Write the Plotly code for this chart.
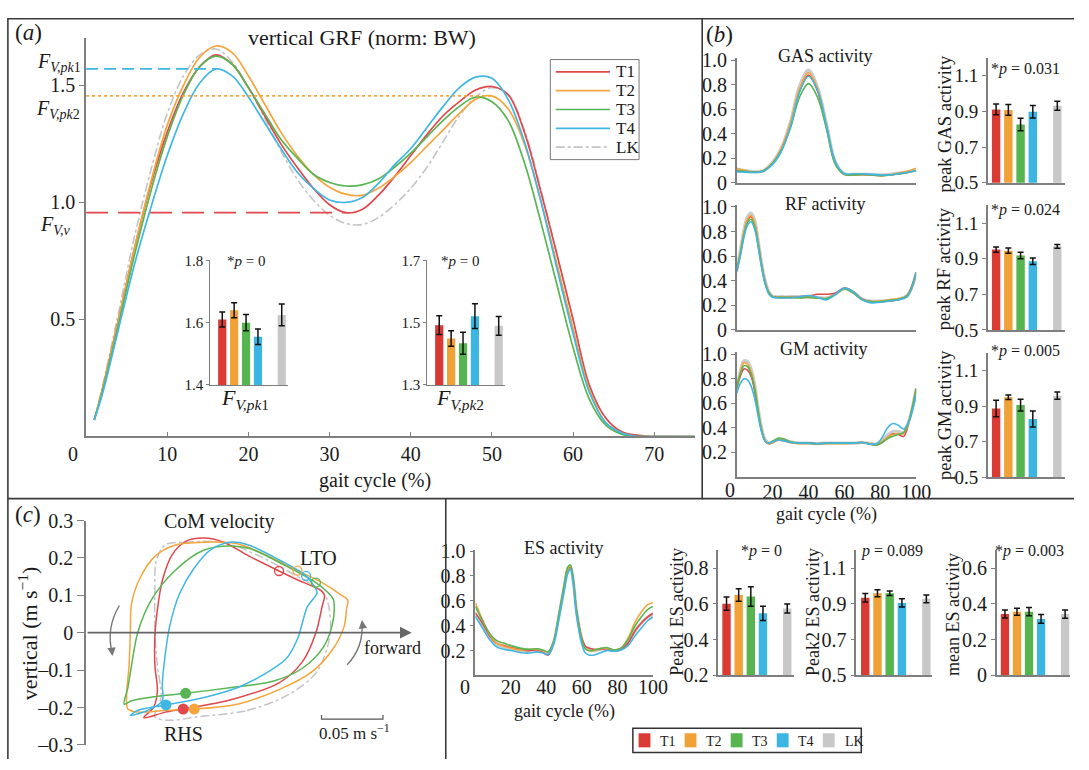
import plotly.graph_objects as go

W, H = 1089, 770
FONT = "Liberation Serif, Times New Roman, DejaVu Serif, serif"
TXT = "#1a1a1a"
AXC = "#7f7f7f"

conds = ["T1", "T2", "T3", "T4", "LK"]
bar_pos = [1, 2, 3, 4, 6]
line_col = {"T1": "#e2474b", "T2": "#f6a53c", "T3": "#58b553", "T4": "#40b7e3", "LK": "#c4c4c4"}
bar_col = {"T1": "#d93a34", "T2": "#f0a236", "T3": "#56b54e", "T4": "#3bb5e1", "LK": "#c8c8c8"}

# ---------------- (a) vertical GRF ----------------
grf_x = [1, 2, 4, 6, 8, 10, 12, 14, 16, 18, 20, 22, 24, 26, 28, 30, 32, 34, 36, 38, 40,
         42, 44, 46, 48, 50, 52, 54, 56, 58, 60, 62, 64, 66, 68, 70, 72, 75]
grf_t1 = [0.07, 0.20, 0.50, 0.81, 1.08, 1.30, 1.47, 1.58, 1.63, 1.59, 1.49, 1.37, 1.25, 1.15, 1.06,
          0.99, 0.956, 0.97, 1.03, 1.11, 1.20, 1.29, 1.37, 1.43, 1.48, 1.495, 1.46, 1.30, 1.05,
          0.78, 0.50, 0.22, 0.08, 0.02, 0.005, 0.0, 0.0, 0.0]
grf_t2 = [0.07, 0.20, 0.50, 0.81, 1.09, 1.33, 1.50, 1.62, 1.668, 1.64, 1.54, 1.42, 1.30, 1.20, 1.12,
          1.065, 1.035, 1.03, 1.06, 1.11, 1.17, 1.24, 1.31, 1.38, 1.44, 1.455, 1.40, 1.25, 1.01,
          0.74, 0.46, 0.20, 0.06, 0.015, 0.0, 0.0, 0.0, 0.0]
grf_t3 = [0.07, 0.19, 0.48, 0.78, 1.05, 1.28, 1.46, 1.58, 1.625, 1.59, 1.49, 1.38, 1.27, 1.19, 1.12,
          1.085, 1.07, 1.075, 1.10, 1.15, 1.21, 1.28, 1.35, 1.41, 1.45, 1.43, 1.35, 1.17, 0.92,
          0.65, 0.38, 0.16, 0.05, 0.01, 0.0, 0.0, 0.0, 0.0]
grf_t4 = [0.07, 0.18, 0.46, 0.74, 0.98, 1.20, 1.38, 1.51, 1.57, 1.54, 1.45, 1.34, 1.23, 1.13, 1.06,
          1.01, 1.00, 1.02, 1.08, 1.16, 1.23, 1.32, 1.41, 1.49, 1.535, 1.53, 1.44, 1.26, 1.01,
          0.72, 0.44, 0.19, 0.06, 0.015, 0.0, 0.0, 0.0, 0.0]
grf_lk = [0.07, 0.21, 0.53, 0.86, 1.14, 1.38, 1.54, 1.63, 1.655, 1.60, 1.49, 1.36, 1.22, 1.10, 1.01,
          0.945, 0.91, 0.905, 0.935, 0.99, 1.06, 1.15, 1.26, 1.37, 1.45, 1.49, 1.46, 1.31, 1.06,
          0.78, 0.50, 0.22, 0.08, 0.02, 0.005, 0.0, 0.0, 0.0]
grf = {"T1": grf_t1, "T2": grf_t2, "T3": grf_t3, "T4": grf_t4, "LK": grf_lk}

fpk1_mean = [1.610, 1.640, 1.600, 1.555, 1.625]
fpk1_err = [0.024, 0.024, 0.026, 0.025, 0.035]
fpk2_mean = [1.492, 1.449, 1.434, 1.521, 1.490]
fpk2_err = [0.030, 0.025, 0.035, 0.040, 0.030]

# ---------------- (b) muscle activity ----------------
gas_x = [0, 5, 10, 15, 20, 25, 30, 35, 40, 45, 50, 55, 60, 65, 70, 75, 80, 85, 90, 95, 100]
gas_t1 = [0.10, 0.095, 0.088, 0.10, 0.16, 0.28, 0.48, 0.75, 0.88, 0.75, 0.46, 0.16, 0.07, 0.065, 0.07, 0.065, 0.06, 0.065, 0.075, 0.085, 0.10]
gas_t2 = [0.12, 0.10, 0.088, 0.10, 0.16, 0.28, 0.49, 0.77, 0.90, 0.77, 0.47, 0.16, 0.07, 0.065, 0.07, 0.065, 0.06, 0.065, 0.08, 0.095, 0.12]
gas_t3 = [0.10, 0.095, 0.088, 0.10, 0.16, 0.27, 0.45, 0.70, 0.81, 0.70, 0.44, 0.15, 0.07, 0.065, 0.07, 0.065, 0.06, 0.065, 0.075, 0.085, 0.10]
gas_t4 = [0.09, 0.088, 0.085, 0.095, 0.15, 0.26, 0.46, 0.74, 0.87, 0.76, 0.47, 0.17, 0.075, 0.075, 0.075, 0.07, 0.065, 0.065, 0.075, 0.085, 0.10]
gas_lk = [0.11, 0.10, 0.09, 0.10, 0.17, 0.29, 0.50, 0.79, 0.92, 0.78, 0.48, 0.17, 0.075, 0.07, 0.07, 0.07, 0.065, 0.07, 0.08, 0.09, 0.11]

rf_x = [0, 2, 4, 6, 8, 10, 12, 14, 16, 18, 20, 25, 30, 35, 40, 45, 50, 55, 60, 65, 70, 75, 80, 85, 90, 95, 100]
rf_t1 = [0.48, 0.62, 0.78, 0.89, 0.92, 0.86, 0.70, 0.52, 0.38, 0.30, 0.27, 0.265, 0.265, 0.27, 0.275, 0.29, 0.29, 0.30, 0.34, 0.31, 0.25, 0.23, 0.23, 0.235, 0.245, 0.28, 0.47]
rf_t2 = [0.48, 0.63, 0.79, 0.90, 0.93, 0.87, 0.71, 0.52, 0.38, 0.30, 0.27, 0.265, 0.265, 0.265, 0.265, 0.26, 0.255, 0.29, 0.335, 0.305, 0.245, 0.23, 0.235, 0.245, 0.255, 0.27, 0.45]
rf_t3 = [0.48, 0.62, 0.77, 0.87, 0.90, 0.84, 0.69, 0.51, 0.37, 0.30, 0.27, 0.265, 0.265, 0.26, 0.265, 0.26, 0.255, 0.29, 0.335, 0.30, 0.245, 0.23, 0.23, 0.24, 0.25, 0.28, 0.47]
rf_t4 = [0.47, 0.60, 0.75, 0.85, 0.88, 0.82, 0.67, 0.50, 0.37, 0.29, 0.265, 0.26, 0.26, 0.27, 0.28, 0.265, 0.245, 0.29, 0.34, 0.31, 0.245, 0.22, 0.225, 0.235, 0.245, 0.27, 0.46]
rf_lk = [0.49, 0.64, 0.81, 0.92, 0.95, 0.89, 0.72, 0.53, 0.39, 0.31, 0.275, 0.27, 0.27, 0.27, 0.27, 0.265, 0.26, 0.29, 0.335, 0.305, 0.25, 0.235, 0.235, 0.24, 0.25, 0.28, 0.46]

gm_x = [0, 2, 4, 6, 8, 10, 12, 14, 16, 18, 20, 23, 26, 30, 35, 40, 45, 50, 55, 60, 65, 70, 75, 78, 81, 84, 87, 90, 93, 96, 100]
gm_t1 = [0.72, 0.82, 0.88, 0.87, 0.82, 0.70, 0.52, 0.37, 0.29, 0.27, 0.28, 0.30, 0.295, 0.28, 0.275, 0.275, 0.27, 0.275, 0.275, 0.275, 0.275, 0.28, 0.265, 0.26, 0.28, 0.32, 0.35, 0.345, 0.33, 0.45, 0.72]
gm_t2 = [0.73, 0.85, 0.93, 0.92, 0.86, 0.73, 0.54, 0.38, 0.29, 0.27, 0.28, 0.30, 0.295, 0.28, 0.27, 0.27, 0.265, 0.27, 0.27, 0.27, 0.275, 0.28, 0.265, 0.26, 0.29, 0.32, 0.345, 0.35, 0.355, 0.45, 0.72]
gm_t3 = [0.72, 0.84, 0.905, 0.90, 0.84, 0.72, 0.53, 0.37, 0.29, 0.275, 0.29, 0.315, 0.31, 0.285, 0.275, 0.275, 0.27, 0.275, 0.275, 0.275, 0.275, 0.28, 0.265, 0.26, 0.28, 0.31, 0.33, 0.345, 0.36, 0.46, 0.72]
gm_t4 = [0.68, 0.76, 0.80, 0.79, 0.74, 0.64, 0.49, 0.36, 0.29, 0.275, 0.285, 0.30, 0.295, 0.28, 0.275, 0.275, 0.27, 0.275, 0.275, 0.275, 0.275, 0.28, 0.265, 0.27, 0.32, 0.40, 0.435, 0.42, 0.39, 0.45, 0.67]
gm_lk = [0.73, 0.86, 0.945, 0.94, 0.88, 0.75, 0.55, 0.39, 0.30, 0.275, 0.285, 0.305, 0.30, 0.285, 0.275, 0.275, 0.27, 0.275, 0.275, 0.275, 0.275, 0.28, 0.27, 0.27, 0.30, 0.34, 0.37, 0.37, 0.36, 0.46, 0.72]

gas_pk = [0.911, 0.908, 0.826, 0.898, 0.932]
gas_err = [0.030, 0.030, 0.035, 0.035, 0.025]
rf_pk = [0.951, 0.945, 0.918, 0.885, 0.969]
rf_err = [0.015, 0.015, 0.018, 0.018, 0.010]
gm_pk = [0.886, 0.949, 0.905, 0.827, 0.958]
gm_err = [0.046, 0.013, 0.033, 0.045, 0.020]

# ---------------- ES activity ----------------
es_x = [0, 4, 8, 12, 16, 20, 25, 30, 35, 38, 41, 44, 47, 50, 52, 53.5, 55, 57, 60, 62, 64, 67, 70, 74, 78, 82, 86, 90, 94, 97, 100]
es_t1 = [0.505, 0.42, 0.32, 0.26, 0.24, 0.225, 0.21, 0.20, 0.205, 0.185, 0.165, 0.26, 0.47, 0.70, 0.84, 0.875, 0.78, 0.52, 0.30, 0.235, 0.22, 0.21, 0.21, 0.215, 0.20, 0.21, 0.26, 0.36, 0.43, 0.47, 0.50]
es_t2 = [0.585, 0.45, 0.33, 0.26, 0.235, 0.22, 0.205, 0.21, 0.21, 0.20, 0.19, 0.27, 0.48, 0.71, 0.85, 0.88, 0.78, 0.51, 0.28, 0.215, 0.20, 0.20, 0.215, 0.22, 0.205, 0.22, 0.30, 0.43, 0.52, 0.57, 0.585]
es_t3 = [0.555, 0.44, 0.34, 0.28, 0.26, 0.24, 0.22, 0.21, 0.215, 0.205, 0.19, 0.27, 0.49, 0.73, 0.87, 0.89, 0.79, 0.52, 0.28, 0.215, 0.20, 0.205, 0.215, 0.225, 0.205, 0.22, 0.29, 0.40, 0.48, 0.53, 0.555]
es_t4 = [0.475, 0.38, 0.29, 0.23, 0.21, 0.20, 0.185, 0.18, 0.19, 0.18, 0.17, 0.25, 0.45, 0.68, 0.82, 0.855, 0.75, 0.48, 0.25, 0.18, 0.165, 0.165, 0.18, 0.20, 0.195, 0.205, 0.24, 0.32, 0.39, 0.44, 0.47]
es_lk = [0.49, 0.40, 0.31, 0.25, 0.23, 0.215, 0.20, 0.20, 0.205, 0.19, 0.175, 0.26, 0.47, 0.70, 0.84, 0.87, 0.78, 0.52, 0.29, 0.22, 0.205, 0.20, 0.21, 0.215, 0.20, 0.21, 0.27, 0.36, 0.43, 0.47, 0.49]

es_pk1 = [0.601, 0.650, 0.641, 0.547, 0.574]
es_pk1_err = [0.037, 0.035, 0.055, 0.040, 0.025]
es_pk2 = [0.934, 0.959, 0.959, 0.905, 0.928]
es_pk2_err = [0.024, 0.020, 0.013, 0.023, 0.022]
es_mean = [0.343, 0.356, 0.356, 0.316, 0.343]
es_mean_err = [0.022, 0.020, 0.023, 0.025, 0.023]

# ---------------- (c) CoM velocity loops (forward, vertical; m/s) ----------------
com_t1_x = [0.079, 0.117, 0.157, 0.176, 0.187, 0.192, 0.194, 0.191, 0.171, 0.157, 0.133, 0.112, 0.096, 0.081, 0.070, 0.062, 0.058, 0.056, 0.056, 0.058, 0.055, 0.047, 0.064]
com_t1_y = [-0.204, -0.180, -0.134, -0.078, 0.000, 0.069, 0.100, 0.113, 0.143, 0.165, 0.204, 0.242, 0.253, 0.244, 0.208, 0.139, 0.061, -0.009, -0.087, -0.156, -0.199, -0.227, -0.213]
com_t2_x = [0.088, 0.123, 0.157, 0.184, 0.201, 0.210, 0.212, 0.213, 0.208, 0.192, 0.172, 0.149, 0.123, 0.096, 0.072, 0.056, 0.044, 0.037, 0.036, 0.035, 0.033, 0.034, 0.042, 0.064]
com_t2_y = [-0.204, -0.191, -0.152, -0.104, -0.043, 0.017, 0.065, 0.087, 0.100, 0.134, 0.166, 0.204, 0.238, 0.242, 0.234, 0.204, 0.147, 0.078, 0.000, -0.087, -0.165, -0.204, -0.212, -0.208]
com_t3_x = [0.081, 0.117, 0.152, 0.176, 0.193, 0.200, 0.202, 0.201, 0.195, 0.187, 0.163, 0.133, 0.117, 0.096, 0.072, 0.053, 0.042, 0.037, 0.034, 0.031, 0.037, 0.056]
com_t3_y = [-0.162, -0.147, -0.130, -0.095, -0.039, 0.017, 0.065, 0.091, 0.113, 0.134, 0.178, 0.225, 0.232, 0.221, 0.165, 0.087, 0.000, -0.087, -0.147, -0.191, -0.182, -0.171]
com_t4_x = [0.065, 0.096, 0.123, 0.144, 0.163, 0.172, 0.176, 0.180, 0.187, 0.188, 0.179, 0.157, 0.131, 0.117, 0.101, 0.088, 0.076, 0.068, 0.064, 0.062, 0.062, 0.050, 0.036, 0.042]
com_t4_y = [-0.193, -0.173, -0.147, -0.113, -0.069, -0.017, 0.026, 0.069, 0.100, 0.108, 0.152, 0.195, 0.236, 0.242, 0.221, 0.173, 0.104, 0.017, -0.069, -0.139, -0.182, -0.208, -0.221, -0.208]
com_lk_x = [0.090, 0.131, 0.165, 0.187, 0.196, 0.199, 0.197, 0.193, 0.171, 0.139, 0.112, 0.080, 0.064, 0.057, 0.056, 0.056, 0.058, 0.061, 0.056, 0.069]
com_lk_y = [-0.225, -0.208, -0.165, -0.108, -0.043, 0.017, 0.078, 0.108, 0.152, 0.208, 0.241, 0.242, 0.234, 0.191, 0.104, 0.000, -0.087, -0.173, -0.225, -0.234]
com = {"T1": (com_t1_x, com_t1_y), "T2": (com_t2_x, com_t2_y), "T3": (com_t3_x, com_t3_y),
       "T4": (com_t4_x, com_t4_y), "LK": (com_lk_x, com_lk_y)}
lto_index = {"T1": 9, "T2": 10, "T3": 9, "T4": 10}   # left toe-off sample in each loop
scale_len = 0.05

# ---------------- helpers ----------------
def dx(p0, p1):
    return [p0 / W, p1 / W]

def dy(top, bot):
    return [1 - bot / H, 1 - top / H]

def tf(size):
    return dict(family=FONT, size=size, color=TXT)

def base_axis(dom, rng, anchor, **kw):
    d = dict(domain=dom, range=rng, anchor=anchor, showgrid=False, zeroline=False,
             showline=True, linecolor=AXC, linewidth=1.5, ticks="", showticklabels=False,
             fixedrange=True)
    d.update(kw)
    return d

def yax(dom, rng, anchor, vals, texts, size=20, ticklen=5):
    return base_axis(dom, rng, anchor, ticks="outside", ticklen=ticklen, tickcolor=AXC,
                     tickwidth=1.2, tickvals=vals, ticktext=texts, showticklabels=True,
                     tickfont=tf(size))

def ann(text, px, py, size, **kw):
    d = dict(text=text, x=px / W, y=1 - py / H, xref="paper", yref="paper", showarrow=False,
             font=tf(size), xanchor="center", yanchor="middle")
    d.update(kw)
    return d

fig = go.Figure()
layout = {}

# ---------------- (a) main axes ----------------
layout["xaxis"] = base_axis(dx(87.3, 704.5), [0, 75], "y", ticks="inside", ticklen=5,
                            tickcolor=AXC, tickwidth=1.2, tickvals=[10, 20, 30, 40, 50, 60, 70],
                            showticklabels=True, tickfont=tf(20), ticklabelstandoff=-1)
layout["yaxis"] = yax(dy(28.3, 438), [0, 1.7], "x", [0.5, 1.0, 1.5], ["0.5", "1.0", "1.5"], 20)

for c in ["LK", "T1", "T2", "T3", "T4"]:
    fig.add_trace(go.Scatter(
        x=grf_x, y=grf[c], mode="lines", name=c, showlegend=False,
        line=dict(color=line_col[c], width=1.7 if c != "LK" else 1.6,
                  dash="dashdot" if c == "LK" else "solid", shape="spline", smoothing=1.0),
        xaxis="x", yaxis="y", hoverinfo="skip"))

# reference lines derived from the curves
i_pk1 = max(range(len(grf_t4)), key=lambda i: grf_t4[i])
fig.add_trace(go.Scatter(x=[0, grf_x[i_pk1]], y=[grf_t4[i_pk1]] * 2, mode="lines", showlegend=False,
                         line=dict(color=line_col["T4"], width=1.6, dash="12px,6px"), xaxis="x", yaxis="y"))
idx2 = [i for i in range(len(grf_x)) if grf_x[i] > 35]
i_pk2 = max(idx2, key=lambda i: grf_t2[i])
fig.add_trace(go.Scatter(x=[0, grf_x[i_pk2]], y=[grf_t2[i_pk2]] * 2, mode="lines", showlegend=False,
                         line=dict(color=line_col["T2"], width=1.6, dash="dot"), xaxis="x", yaxis="y"))
idxv = [i for i in range(len(grf_x)) if 25 < grf_x[i] < 40]
i_v = min(idxv, key=lambda i: grf_t1[i])
fig.add_trace(go.Scatter(x=[0, grf_x[i_v]], y=[grf_t1[i_v]] * 2, mode="lines", showlegend=False,
                         line=dict(color=line_col["T1"], width=1.6, dash="22px,10px"), xaxis="x", yaxis="y"))

# bar helper
def add_bars(n, vals, errs):
    for i, c in enumerate(conds):
        fig.add_trace(go.Bar(
            x=[bar_pos[i]], y=[vals[i]], width=0.69, name=c,
            marker=dict(color=bar_col[c], line=dict(width=0)),
            error_y=dict(type="data", array=[errs[i]], color="#111", thickness=1.5, width=3),
            xaxis=f"x{n}", yaxis=f"y{n}", showlegend=False, hoverinfo="skip"))

# insets
layout["xaxis2"] = base_axis(dx(213.3, 291.7), [0, 6.5], "y2", linewidth=1.2)
layout["yaxis2"] = yax(dy(256.7, 385), [1.4, 1.8], "x2", [1.4, 1.6, 1.8], ["1.4", "1.6", "1.8"], 15, 3)
layout["yaxis2"]["linewidth"] = 1.2
add_bars(2, fpk1_mean, fpk1_err)
layout["xaxis3"] = base_axis(dx(433.3, 511.7), [0, 6.5], "y3", linewidth=1.2)
layout["yaxis3"] = yax(dy(256.7, 385), [1.3, 1.7], "x3", [1.3, 1.5, 1.7], ["1.3", "1.5", "1.7"], 15, 3)
layout["yaxis3"]["linewidth"] = 1.2
add_bars(3, fpk2_mean, fpk2_err)

# ---------------- (b) ----------------
emg_rows = [
    (4, 5, gas_x, {"T1": gas_t1, "T2": gas_t2, "T3": gas_t3, "T4": gas_t4, "LK": gas_lk}, (48.3, 177), (48.3, 176.7), gas_pk, gas_err),
    (6, 7, rf_x, {"T1": rf_t1, "T2": rf_t2, "T3": rf_t3, "T4": rf_t4, "LK": rf_lk}, (199.2, 328.3), (199.9, 328.3), rf_pk, rf_err),
    (8, 9, gm_x, {"T1": gm_t1, "T2": gm_t2, "T3": gm_t3, "T4": gm_t4, "LK": gm_lk}, (350.8, 479.5), (351.6, 480), gm_pk, gm_err),
]

def add_emg(n, xs, series):
    for c in ["LK", "T1", "T2", "T3", "T4"]:
        fig.add_trace(go.Scatter(
            x=xs, y=series[c], mode="lines", showlegend=False,
            line=dict(color=line_col[c], width=3.2 if c == "LK" else 1.6, shape="spline", smoothing=1.0),
            opacity=0.85 if c == "LK" else 1.0, xaxis=f"x{n}", yaxis=f"y{n}", hoverinfo="skip"))

for k, (nl, nb, xs, series, ydl, ydb, pk, er) in enumerate(emg_rows):
    if k < 2:
        layout[f"xaxis{nl}"] = base_axis(dx(747, 929), [0, 100], f"y{nl}")
        layout[f"yaxis{nl}"] = yax(dy(*ydl), [0, 1.02], f"x{nl}", [0, 0.2, 0.4, 0.6, 0.8, 1.0],
                                   ["0", "0.2", "0.4", "0.6", "0.8", "1.0"], 20, 4)
    else:
        layout[f"xaxis{nl}"] = base_axis(dx(747, 929), [0, 100], f"y{nl}", showticklabels=True,
                                         tickvals=[20, 40, 60, 80, 100], tickfont=tf(20),
                                         ticklabelstandoff=-4)
        layout[f"yaxis{nl}"] = yax(dy(*ydl), [0, 1.02], f"x{nl}", [0.2, 0.4, 0.6, 0.8, 1.0],
                                   ["0.2", "0.4", "0.6", "0.8", "1.0"], 20, 4)
    add_emg(nl, xs, series)
    layout[f"xaxis{nb}"] = base_axis(dx(1001.7, 1080), [0.33, 6.64], f"y{nb}")
    layout[f"yaxis{nb}"] = yax(dy(*ydb), [0.5, 1.2], f"x{nb}", [0.5, 0.7, 0.9, 1.1],
                               ["0.5", "0.7", "0.9", "1.1"], 19, 4)
    add_bars(nb, pk, er)

# ---------------- (c) CoM velocity ----------------
layout["xaxis10"] = base_axis(dx(87.3, 423.7), [0, 0.27], "y10", visible=False)
layout["yaxis10"] = yax(dy(524.5, 755.5), [-0.3, 0.3], "x10", [-0.3, -0.2, -0.1, 0, 0.1, 0.2, 0.3],
                        ["–0.3", "–0.2", "–0.1", "0", "0.1", "0.2", "0.3"], 20, 7)
for c in ["LK", "T1", "T2", "T3", "T4"]:
    xs, ys = com[c]
    fig.add_trace(go.Scatter(
        x=xs + xs[:1], y=ys + ys[:1], mode="lines", showlegend=False,
        line=dict(color=line_col[c], width=1.5, dash="dashdot" if c == "LK" else "solid",
                  shape="spline", smoothing=0.9),
        xaxis="x10", yaxis="y10", hoverinfo="skip"))
for c in ["T1", "T2", "T3", "T4"]:
    xs, ys = com[c]
    j = lto_index[c]
    fig.add_trace(go.Scatter(x=[xs[j]], y=[ys[j]], mode="markers", showlegend=False,
                             marker=dict(symbol="circle-open", size=9, color=line_col[c], line=dict(width=1.3)),
                             xaxis="x10", yaxis="y10", hoverinfo="skip"))
for c in ["T3", "T4", "T1", "T2"]:
    xs, ys = com[c]
    fig.add_trace(go.Scatter(x=[xs[0]], y=[ys[0]], mode="markers", showlegend=False,
                             marker=dict(symbol="circle", size=11, color=line_col[c]),
                             xaxis="x10", yaxis="y10", hoverinfo="skip"))

# ---------------- ES row ----------------
layout["xaxis11"] = base_axis(dx(482, 662), [0, 100], "y11", showticklabels=True,
                              tickvals=[20, 40, 60, 80, 100], tickfont=tf(20), ticklabelstandoff=-7)
layout["yaxis11"] = yax(dy(554.7, 684), [0, 1.01], "x11", [0.2, 0.4, 0.6, 0.8, 1.0],
                        ["0.2", "0.4", "0.6", "0.8", "1.0"], 20, 4)
add_emg(11, es_x, {"T1": es_t1, "T2": es_t2, "T3": es_t3, "T4": es_t4, "LK": es_lk})

layout["xaxis12"] = base_axis(dx(728.3, 805), [0.32, 6.55], "y12")
layout["yaxis12"] = yax(dy(555, 684), [0.2, 0.9], "x12", [0.2, 0.4, 0.6, 0.8], ["0.2", "0.4", "0.6", "0.8"], 20, 4)
add_bars(12, es_pk1, es_pk1_err)
layout["xaxis13"] = base_axis(dx(868.3, 945), [0.27, 6.46], "y13")
layout["yaxis13"] = yax(dy(555, 684), [0.5, 1.2], "x13", [0.5, 0.7, 0.9, 1.1], ["0.5", "0.7", "0.9", "1.1"], 20, 4)
add_bars(13, es_pk2, es_pk2_err)
layout["xaxis14"] = base_axis(dx(1010.7, 1085), [0.32, 6.41], "y14")
layout["yaxis14"] = yax(dy(555, 684), [0, 0.7], "x14", [0, 0.2, 0.4, 0.6], ["0", "0.2", "0.4", "0.6"], 20, 4)
add_bars(14, es_mean, es_mean_err)

# ---------------- annotations ----------------
F1 = "<i>F</i><sub><i>V,pk</i>1</sub>"
F2 = "<i>F</i><sub><i>V,pk</i>2</sub>"
FV = "<i>F</i><sub><i>V,v</i></sub>"
annotations = [
    ann("(<i>a</i>)", 29, 22, 23),
    ann("vertical GRF (norm: BW)", 367, 27, 22),
    ann(F1, 84, 53, 20, xanchor="right"),
    ann(F2, 83, 101, 20, xanchor="right"),
    ann(FV, 73, 221, 20, xanchor="right"),
    ann("0", 74, 456, 20),
    ann("gait cycle (%)", 380, 483, 20),
    ann("*<i>p</i> = 0", 249, 257, 15),
    ann("*<i>p</i> = 0", 466, 257, 15),
    ann(F1, 248, 399, 22),
    ann(F2, 466, 399, 22),
    ann("(<i>b</i>)", 730, 24, 23),
    ann("GAS activity", 837, 46, 18),
    ann("RF activity", 837, 199, 18),
    ann("GM activity", 836, 348, 18),
    ann("0", 740, 493, 20),
    ann("gait cycle (%)", 838, 518, 18),
    ann("peak GAS activity", 958, 116, 18.5, textangle=-90),
    ann("peak RF activity", 958, 265, 18.5, textangle=-90),
    ann("peak GM activity", 958, 416, 18.5, textangle=-90),
    ann("*<i>p</i> = 0.031", 1040, 60, 16),
    ann("*<i>p</i> = 0.024", 1040, 205, 16),
    ann("*<i>p</i> = 0.005", 1040, 350, 16),
    ann("(<i>c</i>)", 28, 518, 23),
    ann("CoM velocity", 223, 526, 20),
    ann("LTO", 323, 563, 20),
    ann("RHS", 186, 744, 20),
    ann("forward", 398, 656, 18),
    ann("0.05 m s<sup>−1</sup>", 359, 742, 17),
    ann("vertical (m s<sup>−1</sup>)", 28, 641, 22, textangle=-90),
    ann("ES activity", 572, 553, 18),
    ann("0", 472, 696, 20),
    ann("gait cycle (%)", 572, 721, 18),
    ann("Peak1 ES activity", 687, 619, 18, textangle=-90),
    ann("Peak2 ES activity", 825, 619, 18, textangle=-90),
    ann("mean ES activity", 967, 621, 18, textangle=-90),
    ann("*<i>p</i> = 0", 772, 556, 16),
    ann("<i>p</i> = 0.089", 904, 556, 16),
    ann("*<i>p</i> = 0.003", 1044, 556, 16),
]
# forward axis arrow of (c)
annotations.append(dict(x=0.265, y=0, ax=0, ay=0, xref="x10", yref="y10", axref="x10", ayref="y10",
                        showarrow=True, arrowhead=2, arrowsize=1.3, arrowwidth=1.8, arrowcolor="#666",
                        text="", standoff=0))
# curved direction arrow heads
annotations.append(dict(x=114 / W, y=1 - 664 / H, xref="paper", yref="paper", ax=-1, ay=-9,
                        showarrow=True, arrowhead=2, arrowsize=1.2, arrowwidth=1.4, arrowcolor="#777", text=""))
annotations.append(dict(x=367 / W, y=1 - 627 / H, xref="paper", yref="paper", ax=1, ay=9,
                        showarrow=True, arrowhead=2, arrowsize=1.2, arrowwidth=1.4, arrowcolor="#777", text=""))

def P(px, py):
    return f"{px / W:.5f},{1 - py / H:.5f}"

BOX = "#3a3a3a"
shapes = [
    dict(type="rect", xref="paper", yref="paper", x0=8 / W, y0=1 - 502 / H, x1=712 / W, y1=1 - 8 / H,
         line=dict(color=BOX, width=1.6)),
    dict(type="line", xref="paper", yref="paper", x0=712 / W, y0=1 - 8 / H, x1=1, y1=1 - 8 / H,
         line=dict(color=BOX, width=1.6)),
    dict(type="line", xref="paper", yref="paper", x0=712 / W, y0=1 - 502 / H, x1=1, y1=1 - 502 / H,
         line=dict(color=BOX, width=1.6)),
    dict(type="line", xref="paper", yref="paper", x0=8 / W, y0=1 - 502 / H, x1=8 / W, y1=0,
         line=dict(color=BOX, width=1.6)),
    dict(type="line", xref="paper", yref="paper", x0=452 / W, y0=1 - 502 / H, x1=452 / W, y1=0,
         line=dict(color=BOX, width=1.6)),
    dict(type="path", xref="paper", yref="paper", path=f"M {P(121, 612)} Q {P(107, 636)} {P(114, 662)}",
         line=dict(color="#777", width=1.4)),
    dict(type="path", xref="paper", yref="paper", path=f"M {P(352, 673)} Q {P(369, 655)} {P(367, 629)}",
         line=dict(color="#777", width=1.4)),
]
# scale bar of (c)
sb_x0, sb_y, tk = 0.1916, -0.231, 0.011
shapes.append(dict(type="path", xref="x10", yref="y10",
                   path=f"M {sb_x0},{sb_y + tk} L {sb_x0},{sb_y} L {sb_x0 + scale_len},{sb_y} L {sb_x0 + scale_len},{sb_y + tk}",
                   line=dict(color="#555", width=1.2)))

# key of panel (a): line styles
shapes.append(dict(type="rect", xref="paper", yref="paper", x0=558 / W, x1=648 / W,
                   y0=1 - 153 / H, y1=1 - 50 / H, line=dict(color="#777", width=1), fillcolor="white"))
for i, c in enumerate(conds):
    yy = 62.7 + 19.35 * i
    shapes.append(dict(type="line", xref="paper", yref="paper", x0=563.5 / W, x1=618.5 / W,
                       y0=1 - yy / H, y1=1 - yy / H,
                       line=dict(color=line_col[c], width=1.7, dash="dashdot" if c == "LK" else "solid")))
    annotations.append(ann(c, 623, yy, 17, xanchor="left"))

# bottom colour key (bar colours)
shapes.append(dict(type="rect", xref="paper", yref="paper", x0=641.7 / W, x1=873.3 / W,
                   y0=1 - 763.3 / H, y1=1 - 738.3 / H, line=dict(color="#333", width=1.5), fillcolor="white"))
for i, c in enumerate(conds):
    cx = 653.5 + 46.7 * i
    shapes.append(dict(type="rect", xref="paper", yref="paper", x0=(cx - 6) / W, x1=(cx + 6) / W,
                       y0=1 - 758 / H, y1=1 - 743.5 / H, line=dict(width=0), fillcolor=bar_col[c]))
    annotations.append(ann(c, cx + 14, 751.5, 14, xanchor="left"))

fig.update_layout(
    width=W, height=H, margin=dict(l=0, r=0, t=0, b=0),
    paper_bgcolor="white", plot_bgcolor="rgba(0,0,0,0)",
    barmode="overlay", font=dict(family=FONT, color=TXT), showlegend=False,
    annotations=annotations, shapes=shapes,
    **layout,
)

fig.write_html("out.html", config={"displayModeBar": False},
               post_script="document.body.style.margin='0';document.documentElement.style.overflow='hidden';")
